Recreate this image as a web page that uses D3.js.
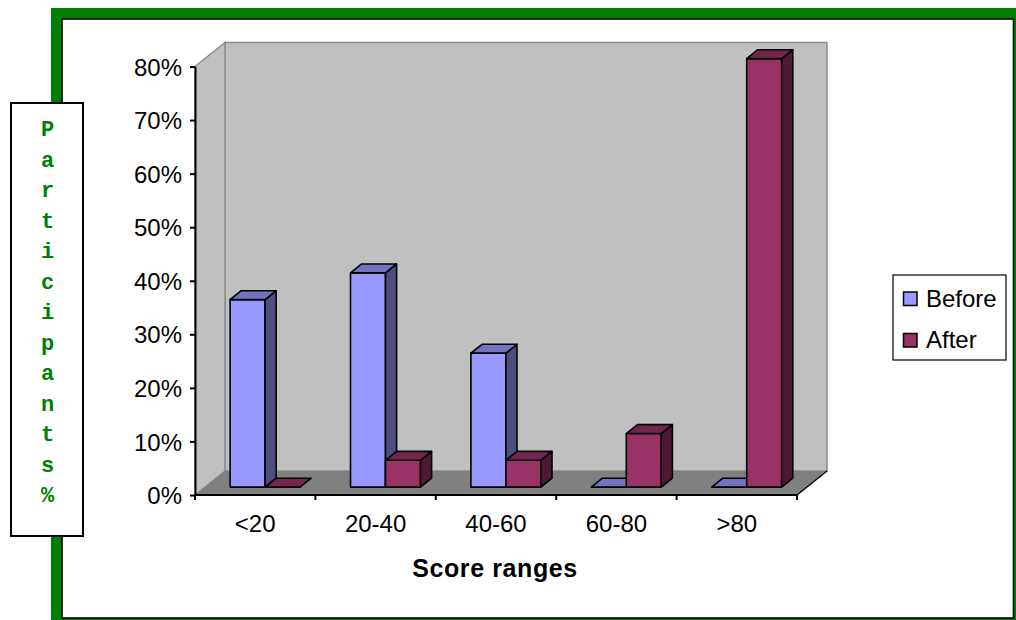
<!DOCTYPE html>
<html>
<head>
<meta charset="utf-8">
<script src="https://cdn.jsdelivr.net/npm/d3@7/dist/d3.min.js"></script>
<style>
  html, body { margin: 0; padding: 0; background: #ffffff; }
  svg { display: block; }
</style>
</head>
<body>
<svg id="chart" width="1016" height="620"></svg>
<script>
// ---- data ----
const categories = ["<20", "20-40", "40-60", "60-80", ">80"];
const seriesNames = ["Before", "After"];
const beforeValues = [0.35, 0.40, 0.25, 0, 0];
const afterValues = [0, 0.05, 0.05, 0.10, 0.80];
const yTickValues = [0, 0.1, 0.2, 0.3, 0.4, 0.5, 0.6, 0.7, 0.8];
const yAxisTitle = "Participants%";
const xAxisTitle = "Score ranges";

// ---- styles ----
const colors = {
  Before: { front: "#9999FF", side: "#4D4D80", top: "#7373BF" },
  After:  { front: "#993366", side: "#4D1A33", top: "#73264D" }
};
const green = "#008000";
const font = "'Liberation Sans', Arial, sans-serif";

const svg = d3.select("#chart");

// outer frame
svg.append("rect").attr("x", 51).attr("y", 8).attr("width", 965).attr("height", 612).attr("fill", green);
svg.append("rect").attr("x", 62).attr("y", 19).attr("width", 951.5).attr("height", 599)
  .attr("fill", "#ffffff").attr("stroke", "#000").attr("stroke-width", 1.6);

// scales
const x = d3.scaleBand().domain(categories).range([195, 797]).paddingInner(0).paddingOuter(0);
const inner = d3.scaleBand().domain(seriesNames).range([0, x.bandwidth()]).paddingInner(0).paddingOuter(0.72);
const y = d3.scaleLinear().domain([0, 0.8]).range([495, 66.5]);

// depth vectors
const DX = 30, DY = -24;
const front = 0.33, back = 0.70;

const x0 = x.range()[0], x1 = x.range()[1];
const yTop = y(0.8), yBot = y(0);

const g = svg.append("g");

// back wall
g.append("rect").attr("x", x0 + DX).attr("y", yTop + DY).attr("width", x1 - x0).attr("height", yBot - yTop)
  .attr("fill", "#C0C0C0").attr("stroke", "#8A8A8A").attr("stroke-width", 1.5);
// left wall
g.append("path")
  .attr("d", d3.line()([[x0, yTop], [x0 + DX, yTop + DY], [x0 + DX, yBot + DY], [x0, yBot]]) + "Z")
  .attr("fill", "#C0C0C0").attr("stroke", "#8A8A8A").attr("stroke-width", 1.5);
// floor
g.append("path")
  .attr("d", d3.line()([[x0, yBot], [x1, yBot], [x1 + DX, yBot + DY], [x0 + DX, yBot + DY]]) + "Z")
  .attr("fill", "#808080").attr("stroke", "none");
// floor right edge
g.append("line").attr("x1", x1).attr("y1", yBot).attr("x2", x1 + DX).attr("y2", yBot + DY)
  .attr("stroke", "#000").attr("stroke-width", 1.5);

// bars
const bars = [];
categories.forEach((c, i) => {
  seriesNames.forEach((s) => {
    const v = s === "Before" ? beforeValues[i] : afterValues[i];
    bars.push({ c, s, v });
  });
});

const fx = front * DX, fy = front * DY;
const bdx = (back - front) * DX, bdy = (back - front) * DY;
const barG = g.append("g");
bars.forEach(d => {
  const left = x(d.c) + inner(d.s) + fx;
  const right = left + inner.bandwidth();
  const base = y(0) + fy;
  const top = y(d.v) + fy;
  const col = colors[d.s];
  const bg = barG.append("g").attr("stroke", "#000").attr("stroke-width", 1.6).attr("stroke-linejoin", "round");
  if (d.v > 0) {
    bg.append("rect").attr("x", left).attr("y", top).attr("width", right - left).attr("height", base - top)
      .attr("fill", col.front);
    bg.append("path").attr("d", d3.line()([[right, top], [right + bdx, top + bdy], [right + bdx, base + bdy], [right, base]]) + "Z")
      .attr("fill", col.side);
  }
  bg.append("path").attr("d", d3.line()([[left, top], [left + bdx, top + bdy], [right + bdx, top + bdy], [right, top]]) + "Z")
    .attr("fill", col.top);
});

// y axis
const yAxis = d3.axisLeft(y).tickValues(yTickValues).tickFormat(d3.format(".0%")).tickSize(5).tickSizeOuter(0);
const ya = svg.append("g").attr("transform", `translate(${x0},0)`).call(yAxis);
ya.select(".domain").attr("stroke", "#000").attr("stroke-width", 2);
ya.selectAll(".tick line").attr("stroke", "#000").attr("stroke-width", 2);
ya.selectAll(".tick text").attr("font-family", font).attr("font-size", 24).attr("fill", "#000")
  .attr("x", -13).attr("dy", "0.36em");

// x axis
const xa = svg.append("g").attr("transform", `translate(0,${yBot})`);
xa.append("line").attr("x1", x0).attr("x2", x1).attr("y1", 0).attr("y2", 0).attr("stroke", "#000").attr("stroke-width", 2);
const bounds = categories.map(c => x(c)).concat([x1]);
xa.selectAll("line.tick").data(bounds).join("line").attr("class", "tick")
  .attr("x1", d => d).attr("x2", d => d).attr("y1", 0).attr("y2", 5).attr("stroke", "#000").attr("stroke-width", 2);
xa.selectAll("text.lbl").data(categories).join("text").attr("class", "lbl")
  .attr("x", d => x(d) + x.bandwidth() / 2).attr("y", 36.5)
  .attr("text-anchor", "middle").attr("font-family", font).attr("font-size", 24).attr("fill", "#000")
  .text(d => d);

// x title
svg.append("text").attr("x", 495).attr("y", 577).attr("text-anchor", "middle")
  .attr("font-family", font).attr("font-size", 25).attr("font-weight", "bold").attr("letter-spacing", 0.6)
  .attr("fill", "#000").text(xAxisTitle);

// y title box
svg.append("rect").attr("x", 11).attr("y", 103).attr("width", 72).attr("height", 433)
  .attr("fill", "#fff").attr("stroke", "#000").attr("stroke-width", 2);
const ytG = svg.append("text").attr("font-family", "'Liberation Mono', 'Courier New', monospace")
  .attr("font-size", 22).attr("font-weight", "bold").attr("fill", green).attr("text-anchor", "middle");
Array.from(yAxisTitle).forEach((ch, i) => {
  ytG.append("tspan").attr("x", 47.5).attr("y", 136 + i * 30.5).text(ch);
});

// legend
const lg = svg.append("g");
lg.append("rect").attr("x", 893).attr("y", 275).attr("width", 113).attr("height", 85)
  .attr("fill", "#fff").attr("stroke", "#000").attr("stroke-width", 1.2);
seriesNames.forEach((s, i) => {
  const yy = 292 + i * 41.5;
  lg.append("rect").attr("x", 903.5).attr("y", yy).attr("width", 13.5).attr("height", 13.5)
    .attr("fill", colors[s].front).attr("stroke", "#000").attr("stroke-width", 1.5);
  lg.append("text").attr("x", 926).attr("y", yy + 14.5).attr("font-family", font).attr("font-size", 24)
    .attr("fill", "#000").text(s);
});
</script>
</body>
</html>
